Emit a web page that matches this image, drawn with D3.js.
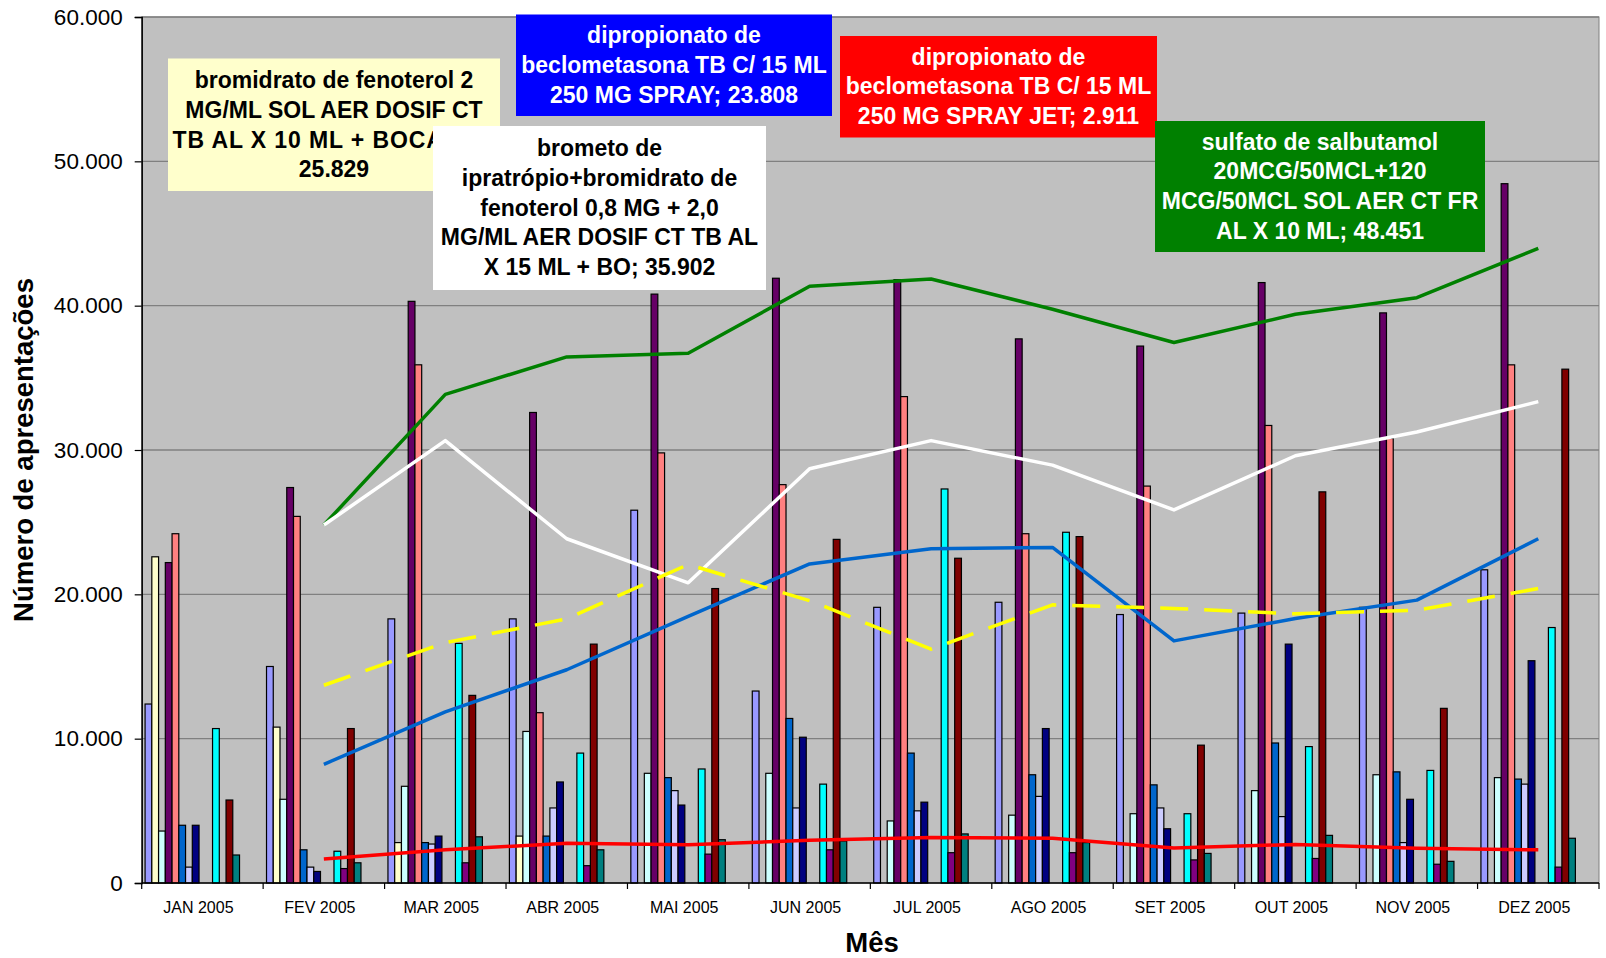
<!DOCTYPE html>
<html><head><meta charset="utf-8">
<script src="https://cdn.jsdelivr.net/npm/d3@7"></script>
<style>body{margin:0;background:#fff}svg{display:block}</style>
</head><body>
<svg id="c" width="1606" height="958"></svg>
<script>
// ---- data (values in number of presentations) ----
const months = ["JAN 2005","FEV 2005","MAR 2005","ABR 2005","MAI 2005","JUN 2005","JUL 2005","AGO 2005","SET 2005","OUT 2005","NOV 2005","DEZ 2005"];
const yTicks = [0,10000,20000,30000,40000,50000,60000];
const sPeriwinkle = [12400,15000,18300,18300,25829,13300,19100,19450,18600,18700,19100,21700];
const sLightYellow = [22600,10800,2800,3250,0,0,0,0,0,0,0,0];
const sLightCyan = [3600,5800,6700,10500,7600,7600,4300,4700,4800,6400,7500,7300];
const sPlum = [22200,27400,40300,32600,40800,41900,41800,37700,37200,41600,39500,48451];
const sSalmon = [24200,25400,35902,11800,29800,27600,33700,24200,27500,31700,30800,35900];
const sBlue = [4000,2300,2800,3250,7300,11400,9000,7500,6800,9700,7700,7200];
const sLavender = [1100,1100,2700,5200,6400,5200,5000,6000,5200,4600,2800,6850];
const sNavy = [4000,800,3250,7000,5400,10100,5600,10700,3760,16550,5800,15400];
const sMagenta = [0,0,0,0,0,0,0,0,0,0,0,0];
const sYellow = [0,0,0,0,0,0,0,0,0,0,0,0];
const sCyan = [10700,2200,16600,9000,7900,6850,27300,24300,4800,9450,7800,17700];
const sPurple = [0,1000,1400,1200,2000,2300,2100,2100,1600,1700,1300,1100];
const sDarkRed = [5750,10700,13000,16550,20400,23808,22500,24000,9550,27100,12100,35600];
const sTeal = [1940,1400,3200,2300,3000,2911,3400,2800,2050,3300,1500,3100];
const sEmpty1 = [0,0,0,0,0,0,0,0,0,0,0,0];
const sEmpty2 = [0,0,0,0,0,0,0,0,0,0,0,0];
const sEmpty3 = [0,0,0,0,0,0,0,0,0,0,0,0];

const barSeries = [
  {v:sPeriwinkle,c:"#9999FF"},{v:sLightYellow,c:"#FFFFCC"},{v:sLightCyan,c:"#CCFFFF"},
  {v:sPlum,c:"#660066"},{v:sSalmon,c:"#FF8080"},{v:sBlue,c:"#0066CC"},{v:sLavender,c:"#CCCCFF"},
  {v:sNavy,c:"#000080"},{v:sMagenta,c:"#FF00FF"},{v:sYellow,c:"#FFFF00"},{v:sCyan,c:"#00FFFF"},
  {v:sPurple,c:"#800080"},{v:sDarkRed,c:"#800000"},{v:sTeal,c:"#008080"},
  {v:sEmpty1,c:"#0000FF"},{v:sEmpty2,c:"#00CCFF"},{v:sEmpty3,c:"#CCFFCC"}
];
// 2-period moving-average trendlines of some series
const trendlines = [
  {v:sPlum,c:"#008000",dash:null},
  {v:sSalmon,c:"#FFFFFF",dash:null},
  {v:sDarkRed,c:"#0066CC",dash:null},
  {v:sPeriwinkle,c:"#FFFF00",dash:"28,16"},
  {v:sTeal,c:"#FF0000",dash:null}
];
const labels = [
  {lines:["bromidrato de fenoterol 2","MG/ML SOL AER DOSIF CT","TB AL X 10 ML + BOCAL;","25.829"],bg:"#FFFFCC",fg:"#000",box:[168,58.5,500,191],y0:80,startLine:2,startX:172.5},
  {lines:["brometo de","ipratrópio+bromidrato de","fenoterol 0,8 MG + 2,0","MG/ML AER DOSIF CT TB AL","X 15 ML + BO; 35.902"],bg:"#FFFFFF",fg:"#000",box:[433,126,766,290],y0:148},
  {lines:["dipropionato de","beclometasona TB C/ 15 ML","250 MG SPRAY; 23.808"],bg:"#0000FF",fg:"#fff",box:[516,14.5,832,116],y0:35},
  {lines:["dipropionato de","beclometasona TB C/ 15 ML","250 MG SPRAY JET; 2.911"],bg:"#FF0000",fg:"#fff",box:[840,36,1157,137.5],y0:56.5},
  {lines:["sulfato de salbutamol","20MCG/50MCL+120","MCG/50MCL SOL AER CT FR","AL X 10 ML; 48.451"],bg:"#008000",fg:"#fff",box:[1155,121,1485,252],y0:141.6}
];

// ---- layout ----
const svg = d3.select("#c");
const L=141.7, R=1599, T=17, B=883;
const font = "'Liberation Sans', Arial, sans-serif";
const x = d3.scaleBand().domain(months).range([L,R]).paddingInner(0).paddingOuter(0);
const xs = d3.scaleBand().domain(d3.range(barSeries.length)).range([0,x.bandwidth()]).paddingInner(0).paddingOuter(0.5);
const y = d3.scaleLinear().domain([0,60000]).range([B,T]);
const loc = d3.formatLocale({decimal:",",thousands:".",grouping:[3],currency:["R$",""]});
const fmt = loc.format(",");

svg.append("rect").attr("x",L).attr("y",T).attr("width",R-L).attr("height",B-T).attr("fill","#C0C0C0").attr("stroke","#808080").attr("stroke-width",1);
svg.append("g").selectAll("line").data(yTicks.filter(d=>d>0)).join("line")
  .attr("x1",L).attr("x2",R).attr("y1",d=>y(d)).attr("y2",d=>y(d)).attr("stroke","#808080").attr("stroke-width",1.3);

// bars
const gBars = svg.append("g");
barSeries.forEach((s,i)=>{
  gBars.append("g").selectAll("rect").data(s.v.map((v,j)=>({v,m:months[j]})).filter(d=>d.v>0)).join("rect")
    .attr("x",d=>x(d.m)+xs(i)).attr("width",xs.bandwidth())
    .attr("y",d=>y(d.v)).attr("height",d=>B-y(d.v))
    .attr("fill",s.c).attr("stroke","#000").attr("stroke-width",1.2);
});

// axes
const yAxis = d3.axisLeft(y).tickValues(yTicks).tickSize(7).tickFormat(fmt);
const ga = svg.append("g").attr("transform",`translate(${L},0)`).call(yAxis);
ga.select(".domain").attr("stroke","#000").attr("stroke-width",1.5);
ga.selectAll(".tick line").attr("stroke","#000").attr("stroke-width",1.2);
ga.selectAll("text").attr("font-family",font).attr("font-size",22.5).attr("fill","#000").attr("x",-19);

const gx = svg.append("g").attr("transform",`translate(0,${B})`);
gx.append("line").attr("x1",L).attr("x2",R).attr("stroke","#000").attr("stroke-width",1.5);
gx.selectAll("line.t").data(d3.range(months.length+1)).join("line").attr("class","t")
  .attr("x1",i=>L+i*x.step()).attr("x2",i=>L+i*x.step()).attr("y1",0).attr("y2",6).attr("stroke","#000").attr("stroke-width",1.2);
gx.selectAll("text").data(months).join("text")
  .attr("x",d=>x(d)+x.bandwidth()/2-4).attr("y",24).attr("dy","0.35em").attr("text-anchor","middle")
  .attr("font-family",font).attr("font-size",16).text(d=>d);

// trendlines (2-period moving average)
const line = d3.line().x(d=>x(d.m)+x.bandwidth()/2).y(d=>y(d.v));
trendlines.forEach(t=>{
  const pts = t.v.map((v,j)=>j===0?null:{m:months[j],v:(t.v[j]+t.v[j-1])/2}).filter(Boolean);
  svg.append("path").attr("d",line(pts)).attr("fill","none").attr("stroke",t.c).attr("stroke-width",3.5)
    .attr("stroke-dasharray",t.dash).attr("stroke-linejoin","round");
});

// data label boxes
labels.forEach(l=>{
  const g = svg.append("g");
  const [x0,y0,x1,y1] = l.box;
  g.append("rect").attr("x",x0).attr("y",y0).attr("width",x1-x0).attr("height",y1-y0).attr("fill",l.bg);
  g.selectAll("text").data(l.lines).join("text")
    .attr("x",(d,i)=>i===l.startLine?l.startX:(x0+x1)/2).attr("y",(d,i)=>l.y0+i*29.8).attr("dy","0.35em")
    .attr("text-anchor",(d,i)=>i===l.startLine?"start":"middle")
    .attr("letter-spacing",(d,i)=>i===l.startLine?"0.9px":null)
    .attr("font-family",font).attr("font-weight","bold").attr("font-size",23).attr("fill",l.fg).text(d=>d);
});

// titles
svg.append("text").attr("x",872).attr("y",942).attr("dy","0.35em").attr("text-anchor","middle")
  .attr("font-family",font).attr("font-weight","bold").attr("font-size",27.5).text("Mês");
svg.append("text").attr("transform","translate(23,450) rotate(-90)").attr("dy","0.35em").attr("text-anchor","middle")
  .attr("font-family",font).attr("font-weight","bold").attr("font-size",27.5).text("Número de apresentações");
</script>
</body></html>
